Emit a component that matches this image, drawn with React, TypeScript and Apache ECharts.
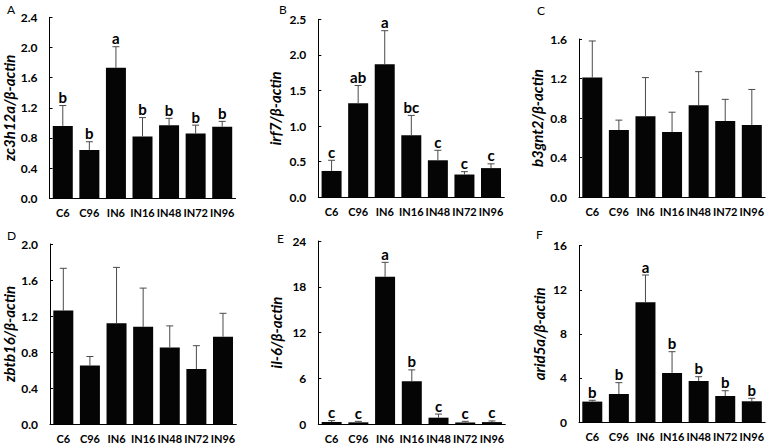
import React, { useEffect, useRef } from "react";
import * as echarts from "echarts";

const categories = ["C6", "C96", "IN6", "IN16", "IN48", "IN72", "IN96"];

const meanA = [0.96, 0.64, 1.73, 0.82, 0.97, 0.86, 0.95];
const errA = [0.27, 0.11, 0.28, 0.25, 0.09, 0.11, 0.07];
const lettersA = ["b", "b", "a", "b", "b", "b", "b"];

const meanB = [0.37, 1.32, 1.87, 0.87, 0.52, 0.32, 0.41];
const errB = [0.15, 0.25, 0.47, 0.28, 0.14, 0.04, 0.06];
const lettersB = ["c", "ab", "a", "bc", "c", "c", "c"];

const meanC = [1.21, 0.68, 0.82, 0.66, 0.93, 0.77, 0.73];
const errC = [0.37, 0.1, 0.39, 0.2, 0.34, 0.22, 0.36];
const lettersC: string[] = [];

const meanD = [1.26, 0.65, 1.12, 1.08, 0.85, 0.61, 0.97];
const errD = [0.47, 0.1, 0.62, 0.43, 0.24, 0.26, 0.26];
const lettersD: string[] = [];

const meanE = [0.26, 0.22, 19.3, 5.6, 0.83, 0.2, 0.25];
const errE = [0.18, 0.13, 1.9, 1.5, 0.47, 0.15, 0.15];
const lettersE = ["c", "c", "a", "b", "c", "c", "c"];

const meanF = [1.85, 2.54, 10.86, 4.45, 3.72, 2.36, 1.88];
const errF = [0.12, 1.03, 2.48, 1.93, 0.39, 0.48, 0.27];
const lettersF = ["b", "b", "a", "b", "b", "b", "b"];

const panelLabels = ["A", "B", "C", "D", "E", "F"];
const yTitles = [
  "zc3h12a/β-actin",
  "irf7/β-actin",
  "b3gnt2/β-actin",
  "zbtb16/β-actin",
  "il-6/β-actin",
  "arid5a/β-actin",
];
const yMax = [2.4, 2.5, 1.6, 2.0, 24, 16];
const yInterval = [0.4, 0.5, 0.4, 0.4, 6, 4];
const yDecimals = [1, 1, 1, 1, 0, 0];

const FONT = "Lato";

export default function App() {
  const ref = useRef<HTMLDivElement>(null);
  useEffect(() => {
    if (!ref.current) return;
    const chart = echarts.init(ref.current, null, { renderer: "svg" });

    const panels = [
      { mean: meanA, err: errA, letters: lettersA },
      { mean: meanB, err: errB, letters: lettersB },
      { mean: meanC, err: errC, letters: lettersC },
      { mean: meanD, err: errD, letters: lettersD },
      { mean: meanE, err: errE, letters: lettersE },
      { mean: meanF, err: errF, letters: lettersF },
    ];

    const grids = [
      { left: 49.5, top: 17.3, width: 186, height: 181 },
      { left: 318.3, top: 19.3, width: 186, height: 178 },
      { left: 579, top: 39, width: 187, height: 158.3 },
      { left: 49.3, top: 244, width: 187, height: 180 },
      { left: 318.3, top: 241, width: 187, height: 183 },
      { left: 579, top: 245.7, width: 187, height: 176.3 },
    ];
    const nameGaps = [31, 36, 35, 34, 35, 33];
    const letterPos = [
      [7, 3],
      [279, 3],
      [537, 4],
      [7, 229],
      [277, 232],
      [536, 228],
    ];

    const xAxis = grids.map((_, i) => ({
      type: "category" as const,
      gridIndex: i,
      data: categories,
      axisLine: { lineStyle: { color: "#000", width: 1 } },
      axisTick: { show: false },
      axisLabel: {
        color: "#000",
        fontFamily: FONT,
        fontWeight: "bold" as const,
        fontSize: 11,
        margin: 9,
        interval: 0,
      },
    }));

    const yAxis = grids.map((_, i) => ({
      type: "value" as const,
      gridIndex: i,
      min: 0,
      max: yMax[i],
      interval: yInterval[i],
      name: yTitles[i],
      nameLocation: "middle" as const,
      nameRotate: 90,
      nameGap: nameGaps[i],
      nameTextStyle: {
        color: "#000",
        fontFamily: FONT,
        fontWeight: "bold" as const,
        fontStyle: "italic" as const,
        fontSize: 15,
      },
      axisLine: { show: true, lineStyle: { color: "#000", width: 1 } },
      axisTick: { show: true, inside: true, length: 3, lineStyle: { color: "#000" } },
      splitLine: { show: false },
      axisLabel: {
        color: "#000",
        fontFamily: FONT,
        fontWeight: "bold" as const,
        fontSize: 12,
        margin: 12,
        formatter: (v: number) => v.toFixed(yDecimals[i]),
      },
    }));

    const series: any[] = [];
    panels.forEach((p, i) => {
      series.push({
        type: "bar",
        xAxisIndex: i,
        yAxisIndex: i,
        data: p.mean,
        barWidth: 20,
        itemStyle: { color: "#050505" },
        silent: true,
      });
      series.push({
        type: "custom",
        xAxisIndex: i,
        yAxisIndex: i,
        data: p.mean.map((m, k) => [k, m, m + p.err[k]]),
        z: 5,
        silent: true,
        renderItem: (params: any, api: any) => {
          const idx = api.value(0);
          const base = api.coord([idx, api.value(1)]);
          const top = api.coord([idx, api.value(2)]);
          const x = base[0];
          const children: any[] = [
            {
              type: "line",
              shape: { x1: x, y1: base[1], x2: x, y2: top[1] },
              style: { stroke: "#4a4a4a", lineWidth: 1 },
            },
            {
              type: "line",
              shape: { x1: x - 3.5, y1: top[1], x2: x + 3.5, y2: top[1] },
              style: { stroke: "#4a4a4a", lineWidth: 1 },
            },
          ];
          const letter = p.letters[params.dataIndex];
          if (letter) {
            children.push({
              type: "text",
              x: x,
              y: top[1] - 1,
              style: {
                text: letter,
                fill: "#000",
                font: `bold 15px ${FONT}`,
                textAlign: "center",
                textVerticalAlign: "bottom",
              },
            });
          }
          return { type: "group", children };
        },
      });
    });

    chart.setOption({
      animation: false,
      backgroundColor: "#fff",
      textStyle: { fontFamily: FONT },
      grid: grids.map((g) => ({ ...g, containLabel: false })),
      xAxis,
      yAxis,
      series,
      graphic: panelLabels.map((t, i) => ({
        type: "text",
        left: letterPos[i][0],
        top: letterPos[i][1],
        style: { text: t, fill: "#000", font: `12px ${FONT}` },
      })),
    });

    return () => chart.dispose();
  }, []);

  return (
    <div
      ref={ref}
      style={{ position: "absolute", left: 0, top: 0, width: 767, height: 445 }}
    />
  );
}
